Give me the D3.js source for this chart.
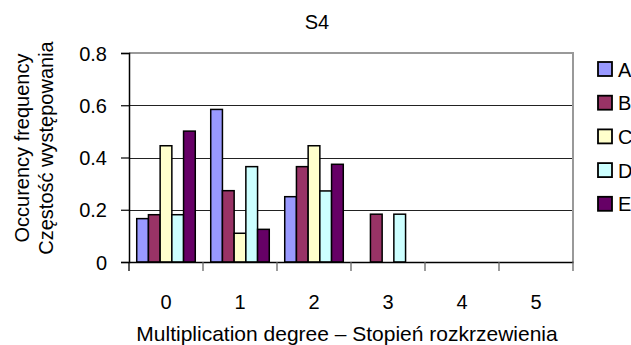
<!DOCTYPE html>
<html>
<head>
<meta charset="utf-8">
<script src="https://cdn.jsdelivr.net/npm/d3@7"></script>
<style>
  body { margin: 0; background: #fff; }
  svg { font-family: "Liberation Sans", Arial, sans-serif; }
</style>
</head>
<body>
<svg width="631" height="345"></svg>
<script>
var categories = ["0", "1", "2", "3", "4", "5"];
var seriesNames = ["A", "B", "C", "D", "E"];
var seriesColors = ["#9999ff", "#993366", "#ffffcc", "#ccffff", "#660066"];
var valuesA = [0.166, 0.584, 0.25, 0, 0, 0];
var valuesB = [0.181, 0.273, 0.365, 0.183, 0, 0];
var valuesC = [0.445, 0.11, 0.445, 0, 0, 0];
var valuesD = [0.181, 0.365, 0.272, 0.183, 0, 0];
var valuesE = [0.501, 0.125, 0.374, 0, 0, 0];
var yTicks = [0, 0.2, 0.4, 0.6, 0.8];

var allValues = [valuesA, valuesB, valuesC, valuesD, valuesE];

var margin = {top: 53, left: 129},
    width = 573 - margin.left,
    height = 262 - margin.top;

var svg = d3.select('svg');
var g = svg.append('g').attr('transform', 'translate(' + margin.left + ',' + margin.top + ')');

var x = d3.scaleBand().domain(categories).range([0, width]).paddingInner(0).paddingOuter(0);
var xs = d3.scaleBand().domain(seriesNames).range([0, x.bandwidth()]).paddingInner(0).paddingOuter(0.66);
var y = d3.scaleLinear().domain([0, 0.8]).range([height, 0]);

// gridlines
g.selectAll('.grid')
    .data(yTicks.filter(function(d) { return d > 0 && d < 0.8; }))
    .enter().append('line')
    .attr('x1', 0).attr('x2', width)
    .attr('y1', function(d) { return Math.round(y(d)) + 0.5; })
    .attr('y2', function(d) { return Math.round(y(d)) + 0.5; })
    .attr('stroke', '#222').attr('stroke-width', 1);

// plot border (top and right)
g.append('path')
    .attr('d', 'M0,' + y(0.8) + 'H' + width + 'V' + height)
    .attr('fill', 'none').attr('stroke', '#999').attr('stroke-width', 2);

// bars
seriesNames.forEach(function(s, i) {
  g.selectAll('.bar-' + s)
      .data(allValues[i].map(function(v, j) { return {cat: categories[j], v: v}; }).filter(function(d) { return d.v > 0; }))
      .enter().append('rect')
      .attr('x', function(d) { return x(d.cat) + xs(s); })
      .attr('width', xs.bandwidth())
      .attr('y', function(d) { return y(d.v); })
      .attr('height', function(d) { return y(0) - y(d.v); })
      .attr('fill', seriesColors[i])
      .attr('stroke', '#000').attr('stroke-width', 1.5);
});

// y axis
var yAxis = g.append('g')
    .call(d3.axisLeft(y).tickValues(yTicks).tickSize(8).tickPadding(14)
      .tickFormat(function(d) { return d === 0 ? '0' : d3.format('.1f')(d); }));
yAxis.attr('font-family', null).attr('font-size', null);
yAxis.select('.domain').attr('stroke', '#000').attr('stroke-width', 1.5);
yAxis.selectAll('.tick line').attr('stroke', '#000').attr('stroke-width', 1.2);
yAxis.selectAll('text').attr('font-size', 20).attr('fill', '#000').attr('dy', '0.35em');

// x axis
var xAxis = g.append('g').attr('transform', 'translate(0,' + height + ')')
    .call(d3.axisBottom(x).tickSize(0));
xAxis.attr('font-family', null).attr('font-size', null);
xAxis.select('.domain').attr('stroke', '#000').attr('stroke-width', 1.5);
xAxis.selectAll('text').attr('font-size', 20).attr('fill', '#000').attr('y', 47).attr('dy', 0);
xAxis.selectAll('.cat-tick')
    .data(categories.concat(['end']))
    .enter().append('line')
    .attr('x1', function(d, i) { return i * x.step(); })
    .attr('x2', function(d, i) { return i * x.step(); })
    .attr('y1', 0).attr('y2', 9)
    .attr('stroke', function(d, i) { return i === 0 ? '#000' : '#666'; })
    .attr('stroke-width', 1.3);

// title
svg.append('text').attr('x', 317).attr('y', 29).attr('text-anchor', 'middle')
    .attr('font-size', 20).text('S4');

// axis titles
svg.append('text').attr('x', 347).attr('y', 341).attr('text-anchor', 'middle')
    .attr('font-size', 21).text('Multiplication degree – Stopień rozkrzewienia');
var yt = svg.append('text').attr('text-anchor', 'middle').attr('font-size', 20)
    .attr('transform', 'translate(29,148) rotate(-90)');
yt.append('tspan').attr('x', 0).attr('y', 0).text('Occurency frequency');
yt.append('tspan').attr('x', 0).attr('y', 24).text('Częstość występowania');

// legend
var legend = svg.append('g').attr('transform', 'translate(598,62)');
var item = legend.selectAll('.item').data(seriesNames).enter().append('g')
    .attr('transform', function(d, i) { return 'translate(0,' + (i * 33.7) + ')'; });
item.append('rect').attr('width', 14).attr('height', 14)
    .attr('fill', function(d, i) { return seriesColors[i]; })
    .attr('stroke', '#000').attr('stroke-width', 1.8);
item.append('text').attr('x', 20).attr('y', 14.5).attr('font-size', 20).text(function(d) { return d; });
</script>
</body>
</html>
